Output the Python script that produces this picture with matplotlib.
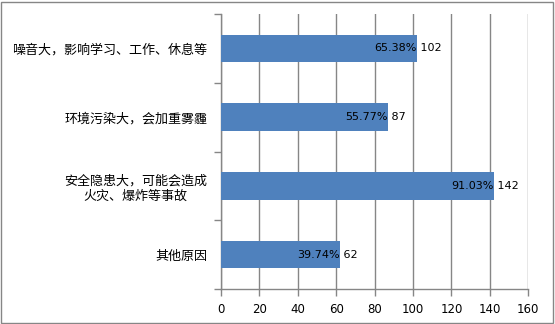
import numpy as np
import matplotlib
matplotlib.use('Agg')
import matplotlib.pyplot as plt
from matplotlib.patches import Rectangle

plt.rcParams['font.family'] = ['Noto Sans CJK SC', 'DejaVu Sans']

# 数据
categories = ['噪音大，影响学习、工作、休息等',
              '环境污染大，会加重雾霾',
              '安全隐患大，可能会造成\n火灾、爆炸等事故',
              '其他原因']
counts = [102, 87, 142, 62]
percents = ['65.38%', '55.77%', '91.03%', '39.74%']
xticks = [0, 20, 40, 60, 80, 100, 120, 140, 160]

grey = '#868686'
bar_color = '#4F81BD'

fig = plt.figure(figsize=(5.55, 3.24), dpi=100)
ax = fig.add_axes([221 / 555, 1 - 289 / 324, (528.3 - 221) / 555, (289 - 14) / 324])

y = np.arange(len(categories))
ax.barh(y, counts, height=0.4, color=bar_color, zorder=3)

# 数据标签: 百分比在柱内末端, 计数在柱外
for yi, c, p in zip(y, counts, percents):
    ax.text(c, yi, p, ha='right', va='center', fontsize=8,
            family=['DejaVu Sans'], zorder=4)
    ax.text(c, yi, ' ' + str(c), ha='left', va='center', fontsize=8,
            family=['DejaVu Sans'], zorder=4)

ax.set_xlim(0, 160)
ax.set_ylim(len(categories) - 0.5, -0.5)
ax.set_xticks(xticks)
ax.set_xticklabels([str(t) for t in xticks], family=['DejaVu Sans'], fontsize=8.5)
ax.set_yticks(y)
ax.set_yticklabels(categories, fontsize=9.4, multialignment='center',
                   linespacing=1.25)
ax.set_yticks(np.arange(-0.5, len(categories)), minor=True)
ax.tick_params(axis='y', which='major', length=0, pad=10)
ax.tick_params(axis='y', which='minor', length=5, color=grey, width=1)
ax.tick_params(axis='x', length=5, color=grey, width=1, pad=5)

ax.grid(axis='x', color=grey, lw=1, zorder=0)
for s in ['top', 'right']:
    ax.spines[s].set_visible(False)
for s in ['left', 'bottom']:
    ax.spines[s].set_color(grey)
    ax.spines[s].set_linewidth(1)

# 外框
fig.patches.append(Rectangle((1 / 555, 1 / 324), 552 / 555, 321 / 324,
                             transform=fig.transFigure, fill=False,
                             edgecolor=grey, lw=1))

fig.savefig('out.png', dpi=100)
